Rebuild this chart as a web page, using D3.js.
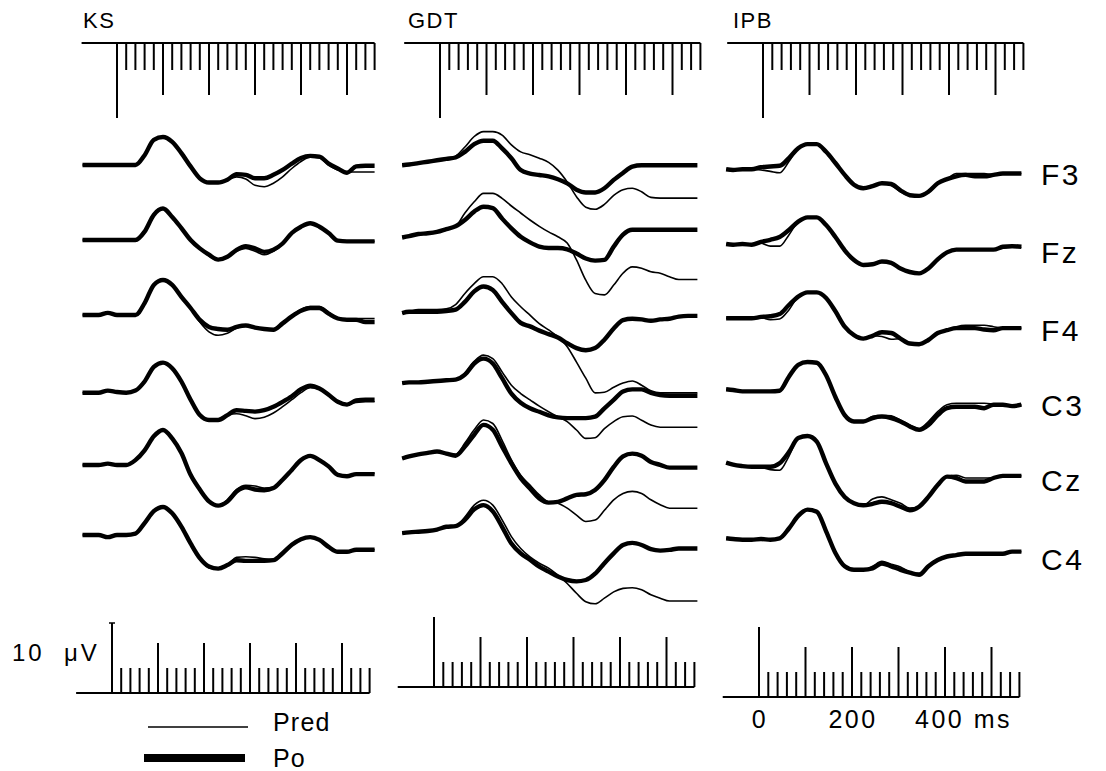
<!DOCTYPE html>
<html><head><meta charset="utf-8">
<script src="https://cdn.jsdelivr.net/npm/d3@7"></script>
<style>
body{margin:0;background:#fff}
svg{display:block;background:#fff}
text{font-family:"Liberation Sans",Arial,sans-serif;fill:#000}
</style>
</head><body><svg id="c" width="1106" height="771"></svg>
<script>
// ---------------- DATA ----------------
const subjects = ["KS", "GDT", "IPB"];
const electrodes = ["F3", "Fz", "F4", "C3", "Cz", "C4"];
const seriesNames = ["Pred", "Po"];
const timesMs = [-75,-60,-40,-20,0,20,40,60,80,100,120,140,160,180,200,220,240,260,280,300,320,340,360,380,400,420,440,460,480,500,520,540,560];
const rulerTicksMs = [0,20,40,60,80,100,120,140,160,180,200,220,240,260,280,300,320,340,360,380,400,420,440,460,480,500,520,540,560];
const timeTickLabels = [0, 200, 400];
const timeUnit = "ms";
const calibValueUV = 10;
const calibLabel = "10  \u03bcV";

// values in microvolts (positive drawn upward), sampled at timesMs
const KS_F3_Po   = [0,0,0,0,0,0,0,1.4,3.6,4.0,3.3,1.7,-0.2,-1.9,-2.5,-2.5,-2.1,-1.3,-1.4,-1.9,-1.9,-1.4,-0.7,0.2,1.0,1.3,1.2,0.2,-0.5,-1.1,-0.2,-0.1,-0.1];
const KS_F3_Pred = [0,0,0,0,0,0,0,1.4,3.6,4.0,3.3,1.7,-0.2,-1.9,-2.5,-2.5,-2.1,-1.7,-2.0,-2.9,-3.1,-2.6,-1.7,-0.5,0.5,1.1,1.0,0,-0.7,-1.0,-1.0,-1.0,-1.0];
const KS_Fz_Po   = [0,0,0,0,0,0,0,1.2,3.6,4.5,3.3,1.7,0,-1.2,-2.1,-2.8,-2.4,-1.4,-0.9,-1.2,-1.7,-1.4,-0.5,1.0,1.9,2.4,1.9,1.0,-0.1,-0.2,-0.2,-0.2,-0.2];
const KS_Fz_Pred = [0,0,0,0,0,0,0,1.2,3.6,4.5,3.3,1.7,0,-1.2,-2.3,-2.9,-2.4,-1.6,-1.2,-1.6,-2.1,-1.6,-0.6,1.0,1.9,2.4,1.9,1.0,-0.1,-0.2,-0.2,-0.2,-0.2];
const KS_F4_Po   = [0,0,0,0.3,0,0,0,1.7,4.3,5.0,4.3,2.6,1.0,-0.7,-1.7,-2.0,-2.1,-1.7,-1.5,-1.8,-2.0,-2.1,-1.2,-0.2,0.6,1.0,1.0,0.2,-0.5,-0.7,-0.7,-1.0,-1.0];
const KS_F4_Pred = [0,0,0,0.3,0,0,0,1.7,4.3,5.0,4.3,2.6,1.0,-1.0,-2.4,-2.9,-2.6,-1.9,-1.5,-1.8,-2.0,-2.1,-1.2,-0.1,0.8,1.2,1.2,0.4,-0.4,-0.5,-0.5,-0.5,-0.5];
const KS_C3_Po   = [0,0,0,0.3,0.1,0,0.3,1.6,3.7,4.3,3.5,1.6,-1.0,-3.2,-3.9,-3.9,-3.2,-2.5,-2.6,-2.7,-2.5,-2.0,-1.3,-0.5,0.5,1.0,0.6,-0.3,-1.3,-1.7,-1.1,-1.0,-1.0];
const KS_C3_Pred = [0,0,0,0.3,0.1,0,0.3,1.6,3.7,4.3,3.5,1.6,-1.0,-3.2,-3.9,-3.9,-3.2,-3.0,-3.3,-3.7,-3.5,-2.9,-2.0,-1.0,0,0.7,0.5,-0.4,-1.4,-1.6,-1.4,-1.3,-1.3];
const KS_Cz_Po   = [0,0,0,0.2,0,0,0.7,2.1,4.1,5.0,3.8,1.7,-1.4,-3.5,-5.2,-5.8,-5.2,-3.8,-3.2,-3.5,-3.6,-3.3,-2.1,-0.7,0.7,1.3,0.7,-0.2,-1.4,-1.6,-1.3,-1.3,-1.3];
const KS_Cz_Pred = [0,0,0,0.2,0,0,0.7,2.1,4.1,5.0,3.8,1.7,-1.4,-3.5,-5.2,-5.8,-5.0,-3.5,-2.9,-3.0,-3.3,-3.2,-2.1,-0.7,0.7,1.3,0.7,-0.2,-1.4,-1.6,-1.3,-1.2,-1.2];
const KS_C4_Po   = [0,0,0,-0.3,0,0,0.2,1.7,3.4,4.0,3.1,1.2,-1.2,-3.3,-4.5,-4.8,-4.3,-3.6,-3.7,-3.7,-3.7,-3.6,-2.6,-1.4,-0.6,-0.3,-0.7,-1.7,-2.4,-2.4,-2.1,-2.1,-2.1];
const KS_C4_Pred = [0,0,0,-0.3,0,0,0.2,1.7,3.4,4.0,3.1,1.2,-1.2,-3.3,-4.7,-4.9,-4.3,-3.2,-3.1,-3.2,-3.4,-3.5,-2.6,-1.4,-0.6,-0.3,-0.7,-1.7,-2.4,-2.4,-2.1,-2.1,-2.1];

const GDT_F3_Po   = [-0.5,-0.4,-0.2,0,0.2,0.4,0.6,1.4,2.5,3.0,3.0,1.9,0.5,-1.2,-1.7,-1.9,-2.1,-2.5,-3.1,-4.0,-4.4,-4.4,-3.8,-2.6,-1.6,-0.7,-0.5,-0.5,-0.5,-0.5,-0.5,-0.5,-0.5];
const GDT_F3_Pred = [-0.5,-0.4,-0.2,0,0.2,0.4,0.8,2.1,3.6,4.3,4.3,3.8,2.4,1.4,1.0,0.5,-0.1,-1.2,-2.9,-5.0,-6.5,-6.8,-6.1,-4.8,-4.0,-3.8,-4.3,-5.1,-5.2,-5.2,-5.2,-5.2,-5.2];
const GDT_Fz_Po   = [-0.6,-0.4,-0.1,0,0.2,0.6,1.0,1.9,3.1,3.8,3.6,2.1,0.7,-0.5,-1.3,-1.9,-2.1,-2.1,-2.3,-2.9,-3.6,-3.9,-3.8,-1.9,-0.2,0.5,0.5,0.5,0.5,0.5,0.5,0.5,0.5];
const GDT_Fz_Pred = [-0.6,-0.4,-0.1,0,0.2,0.6,1.0,2.9,4.5,5.7,5.7,5.0,3.9,2.9,1.9,1.0,0.2,-0.5,-1.4,-3.8,-6.7,-8.6,-8.8,-7.4,-5.7,-4.8,-5.0,-5.5,-5.7,-6.2,-6.6,-6.6,-6.6];
const GDT_F4_Po   = [-0.2,0,0,0,0,0.1,0.3,1.4,2.9,3.6,3.1,1.4,-0.2,-1.6,-2.1,-2.7,-3.2,-3.7,-4.5,-5.2,-5.5,-5.2,-4.0,-2.4,-1.2,-1.0,-1.1,-1.3,-1.1,-1.0,-0.7,-0.6,-0.6];
const GDT_F4_Pred = [-0.2,0,0.3,0.3,0.3,0.4,1.0,2.6,4.0,5.0,5.0,4.0,2.1,0.7,-0.5,-1.7,-2.6,-3.6,-5.0,-7.2,-9.5,-11.6,-11.5,-10.8,-10.2,-9.9,-10.5,-11.3,-11.6,-11.6,-11.6,-11.6,-11.6];
const GDT_C3_Po   = [-0.2,-0.1,-0.1,0,0.1,0.2,0.3,1.0,2.6,3.3,2.6,0.5,-1.7,-3.0,-3.8,-4.3,-4.8,-5.1,-5.2,-5.2,-5.2,-5.0,-3.8,-2.6,-1.4,-1.1,-1.1,-1.6,-1.9,-2.0,-2.0,-2.0,-2.0];
const GDT_C3_Pred = [-0.2,-0.1,-0.1,0,0.1,0.2,0.3,1.2,2.9,3.8,3.3,1.4,-0.5,-1.7,-2.6,-3.5,-4.3,-5.0,-5.7,-6.9,-8.1,-8.0,-6.7,-5.7,-5.0,-4.9,-5.5,-6.2,-6.5,-6.5,-6.5,-6.5,-6.5];
const GDT_Cz_Po   = [-0.5,-0.2,0.1,0.3,0.5,0.2,-0.1,1.2,2.9,4.3,3.6,1.2,-1.2,-3.3,-4.8,-6.2,-6.8,-6.7,-6.2,-5.7,-5.6,-5.0,-3.6,-1.7,-0.2,0.2,-0.1,-1.0,-1.4,-1.8,-1.8,-1.8,-1.8];
const GDT_Cz_Pred = [-0.5,-0.2,0.1,0.3,0.5,0.2,0.1,1.7,3.6,5.0,4.5,2.1,-0.7,-2.9,-4.3,-5.7,-6.7,-6.9,-7.6,-8.6,-9.5,-9.3,-7.9,-6.4,-5.5,-5.2,-5.5,-6.4,-7.1,-7.6,-7.6,-7.6,-7.6];
const GDT_C4_Po   = [-0.2,-0.1,0,0.1,0.3,0.7,0.8,1.7,3.2,3.8,2.9,0.7,-1.7,-3.1,-4.0,-5.0,-5.7,-6.4,-6.9,-7.1,-6.9,-6.0,-4.5,-3.1,-1.9,-1.6,-1.9,-2.5,-2.7,-2.6,-2.4,-2.4,-2.4];
const GDT_C4_Pred = [-0.2,-0.1,0,0.1,0.3,0.7,0.8,2.1,3.8,4.5,3.8,1.7,-0.7,-2.4,-3.6,-4.5,-5.2,-6.2,-7.4,-8.8,-10.0,-10.3,-9.5,-8.6,-8.1,-8.0,-8.3,-9.0,-9.5,-9.9,-9.9,-9.9,-9.9];

const IPB_F3_Po   = [0,-0.1,0,0,0.3,0.4,0.5,1.6,3.0,3.6,3.6,2.5,0.9,-0.8,-2.2,-2.7,-2.4,-2.0,-2.1,-3.0,-3.7,-3.8,-3.2,-2.0,-1.4,-1.0,-0.8,-1.0,-1.0,-0.8,-0.6,-0.6,-0.6];
const IPB_F3_Pred = [0,-0.1,0,0,-0.1,-0.3,-0.5,1.1,3.0,3.6,3.6,2.5,0.9,-0.8,-2.2,-2.7,-2.4,-2.0,-2.3,-3.2,-3.8,-3.8,-3.2,-2.0,-1.4,-0.6,-0.6,-0.6,-0.6,-0.8,-0.6,-0.6,-0.6];
const IPB_Fz_Po   = [0,-0.1,0,-0.1,0.3,0.6,1.0,2.0,3.2,3.8,3.8,2.7,1.0,-0.9,-2.3,-3.0,-2.9,-2.5,-2.7,-3.5,-4.0,-4.2,-3.5,-2.2,-1.2,-0.8,-0.8,-0.8,-0.8,-0.8,-0.4,-0.3,-0.4];
const IPB_Fz_Pred = [0,-0.1,0,-0.1,0.1,-0.3,-0.3,1.3,3.2,3.8,3.8,2.7,1.0,-0.9,-2.3,-3.0,-2.9,-2.5,-2.7,-3.5,-4.0,-4.2,-3.5,-2.2,-1.2,-0.8,-0.8,-0.8,-0.8,-0.8,-0.6,-0.5,-0.5];
const IPB_F4_Po   = [0,0,0,0,0.2,0.3,0.6,1.9,3.1,3.7,3.7,2.9,1.0,-1.2,-2.4,-2.9,-2.5,-2.0,-2.1,-2.9,-3.6,-3.7,-3.1,-2.1,-1.7,-1.4,-1.4,-1.4,-1.6,-1.7,-1.4,-1.4,-1.4];
const IPB_F4_Pred = [0,0,0,0,0.1,-0.2,-0.1,1.2,3.1,3.7,3.7,2.9,1.0,-1.2,-2.4,-2.9,-2.5,-2.6,-3.0,-2.9,-3.6,-3.7,-3.1,-2.1,-1.7,-1.2,-1.0,-1.0,-1.0,-1.2,-1.4,-1.4,-1.4];
const IPB_C3_Po   = [0.1,0,-0.2,-0.2,-0.2,-0.2,-0.1,1.9,3.6,4.0,3.9,2.1,-1.0,-3.6,-4.5,-4.5,-4.0,-3.8,-4.0,-4.5,-5.2,-5.7,-5.0,-3.6,-2.6,-2.4,-2.4,-2.4,-2.6,-2.1,-2.1,-2.3,-2.1];
const IPB_C3_Pred = [0.1,0,-0.2,-0.2,-0.2,-0.2,-0.1,1.9,3.6,4.0,3.9,2.1,-1.0,-3.6,-4.5,-4.5,-3.8,-3.6,-3.7,-4.3,-5.0,-5.5,-4.5,-3.1,-2.1,-1.9,-1.9,-1.9,-1.9,-2.0,-2.1,-2.3,-2.1];
const IPB_Cz_Po   = [0.1,-0.2,-0.4,-0.5,-0.5,-0.5,0,1.6,3.6,3.9,3.1,0,-2.9,-4.8,-5.7,-6.0,-5.8,-5.5,-5.7,-6.2,-6.7,-6.2,-4.8,-3.1,-1.9,-2.1,-2.6,-2.6,-2.6,-2.1,-1.8,-1.8,-1.8];
const IPB_Cz_Pred = [0.1,-0.2,-0.4,-0.5,-0.6,-0.9,-1.0,1.0,3.6,3.9,3.1,0,-2.9,-4.8,-5.7,-6.0,-5.1,-4.8,-5.2,-5.7,-6.4,-6.2,-4.8,-3.1,-1.9,-1.7,-2.1,-2.1,-2.1,-2.1,-1.8,-1.8,-1.8];
const IPB_C4_Po   = [0,-0.1,-0.2,-0.2,-0.1,-0.2,0,1.4,3.2,4.1,3.8,1.0,-2.1,-4.0,-4.5,-4.5,-4.3,-3.6,-4.0,-4.5,-4.9,-5.2,-4.0,-3.1,-2.6,-2.4,-2.2,-2.2,-2.2,-2.2,-2.2,-1.9,-1.9];
const IPB_C4_Pred = [0,-0.1,-0.2,-0.2,-0.1,-0.2,0,1.4,3.2,4.1,3.8,1.0,-2.1,-4.0,-4.5,-4.5,-4.0,-3.3,-3.7,-4.1,-4.8,-5.0,-4.0,-3.1,-2.6,-2.4,-2.2,-2.2,-2.2,-2.2,-2.2,-1.9,-1.9];

// table built from the named arrays
const traces = {
  KS:  {F3:{Pred:KS_F3_Pred,Po:KS_F3_Po},Fz:{Pred:KS_Fz_Pred,Po:KS_Fz_Po},F4:{Pred:KS_F4_Pred,Po:KS_F4_Po},
        C3:{Pred:KS_C3_Pred,Po:KS_C3_Po},Cz:{Pred:KS_Cz_Pred,Po:KS_Cz_Po},C4:{Pred:KS_C4_Pred,Po:KS_C4_Po}},
  GDT: {F3:{Pred:GDT_F3_Pred,Po:GDT_F3_Po},Fz:{Pred:GDT_Fz_Pred,Po:GDT_Fz_Po},F4:{Pred:GDT_F4_Pred,Po:GDT_F4_Po},
        C3:{Pred:GDT_C3_Pred,Po:GDT_C3_Po},Cz:{Pred:GDT_Cz_Pred,Po:GDT_Cz_Po},C4:{Pred:GDT_C4_Pred,Po:GDT_C4_Po}},
  IPB: {F3:{Pred:IPB_F3_Pred,Po:IPB_F3_Po},Fz:{Pred:IPB_Fz_Pred,Po:IPB_Fz_Po},F4:{Pred:IPB_F4_Pred,Po:IPB_F4_Po},
        C3:{Pred:IPB_C3_Pred,Po:IPB_C3_Po},Cz:{Pred:IPB_Cz_Pred,Po:IPB_Cz_Po},C4:{Pred:IPB_C4_Pred,Po:IPB_C4_Po}}
};

// ---------------- LAYOUT ----------------
const layout = {
  KS:  {x0:117, top0:117, bot0:112, pxPerMs:0.46,  rowY:[165,240,315,392.7,465,535],       botY:693, labelX:83},
  GDT: {x0:437, top0:440, bot0:434, pxPerMs:0.465, rowY:[161.7,233.3,311.7,381.7,455,531.7], botY:687, labelX:408},
  IPB: {x0:761, top0:763, bot0:759, pxPerMs:0.465, rowY:[169.3,244,318.3,390,463.3,538.3],   botY:697, labelX:733}
};
const pxPerUV = 7;
const topRulerY = 43;
const tickLen = {tall:75, mid:52, small:27};
const botLen = {mid:50, small:25};
const rightLabelX = 1041;
const rightLabelBase = [185, 263, 341, 416, 491, 570];
const styles = {Pred:{w:1.6}, Po:{w:4.4}};

const svg = d3.select("#c");
const tickKind = t => t === 0 ? "tall" : (t % 100 === 0 ? "mid" : "small");

subjects.forEach(s => {
  const L = layout[s];
  const span = 560 * L.pxPerMs;
  const x = d3.scaleLinear().domain([0, 560]).range([L.x0, L.x0 + span]);
  const xt = d3.scaleLinear().domain([0, 560]).range([L.top0, L.top0 + span]);
  const xb = d3.scaleLinear().domain([0, 560]).range([L.bot0, L.bot0 + span]);
  const g = svg.append("g");

  // subject label
  g.append("text").attr("x", L.labelX).attr("y", 28)
    .attr("font-size", 22).attr("letter-spacing", 1.5).text(s);

  // top ruler
  g.append("line").attr("x1", xt(-77)).attr("x2", xt(560))
    .attr("y1", topRulerY).attr("y2", topRulerY)
    .attr("stroke", "#000").attr("stroke-width", 2);
  g.selectAll(".tt").data(rulerTicksMs).enter().append("line")
    .attr("x1", d => xt(d)).attr("x2", d => xt(d))
    .attr("y1", topRulerY).attr("y2", d => topRulerY + tickLen[tickKind(d)])
    .attr("stroke", "#000").attr("stroke-width", 2);

  // bottom ruler (calibration)
  const yCal = d3.scaleLinear().domain([0, calibValueUV]).range([L.botY, L.botY - calibValueUV * pxPerUV]);
  g.append("line").attr("x1", xb(-78)).attr("x2", xb(560))
    .attr("y1", L.botY).attr("y2", L.botY)
    .attr("stroke", "#000").attr("stroke-width", 2);
  g.selectAll(".bt").data(rulerTicksMs).enter().append("line")
    .attr("x1", d => xb(d)).attr("x2", d => xb(d))
    .attr("y1", L.botY)
    .attr("y2", d => {
      const k = tickKind(d);
      return k === "tall" ? yCal(calibValueUV) : L.botY - botLen[k];
    })
    .attr("stroke", "#000").attr("stroke-width", 2);
  if (s === "KS") {
    g.append("line").attr("x1", xb(0) - 3).attr("x2", xb(0) + 3)
      .attr("y1", yCal(calibValueUV)).attr("y2", yCal(calibValueUV))
      .attr("stroke", "#000").attr("stroke-width", 1.5);
    g.append("text").attr("x", 12).attr("y", 661).attr("font-size", 24)
      .attr("letter-spacing", 3)
      .attr("xml:space", "preserve").style("white-space", "pre").text(calibLabel);
  }
  if (s === "IPB") {
    const last = timeTickLabels.length - 1;
    g.selectAll(".tl").data(timeTickLabels).enter().append("text")
      .attr("x", d => xb(d)).attr("y", 728).attr("font-size", 25)
      .attr("letter-spacing", 2.5)
      .attr("text-anchor", (d, i) => i === last ? "start" : "middle")
      .attr("dx", (d, i) => i === last ? -30 : 1)
      .text((d, i) => i === last ? d + " " + timeUnit : d);
  }

  // traces
  electrodes.forEach((e, i) => {
    const y = d3.scaleLinear().domain([0, 10]).range([L.rowY[i], L.rowY[i] - 10 * pxPerUV]);
    const line = d3.line().x((d, j) => x(timesMs[j])).y(d => y(d)).curve(d3.curveMonotoneX);
    seriesNames.forEach(n => {
      g.append("path").datum(traces[s][e][n]).attr("d", line)
        .attr("fill", "none").attr("stroke", "#000")
        .attr("stroke-width", styles[n].w)
        .attr("stroke-linejoin", "round").attr("stroke-linecap", "butt");
    });
  });
});

// electrode labels
svg.selectAll(".el").data(electrodes).enter().append("text")
  .attr("x", rightLabelX).attr("y", (d, i) => rightLabelBase[i])
  .attr("font-size", 30).attr("letter-spacing", 2.5).text(d => d);

// legend
const leg = svg.append("g");
seriesNames.forEach((n, i) => {
  const ly = [727, 758][i];
  leg.append("line").attr("x1", [148, 144][i]).attr("x2", [248, 245][i])
    .attr("y1", ly).attr("y2", ly)
    .attr("stroke", "#000").attr("stroke-width", n === "Po" ? 8 : 1.3);
  leg.append("text").attr("x", 273).attr("y", [731, 767][i])
    .attr("font-size", 25).attr("letter-spacing", 1.2).text(n);
});
</script>
</body></html>
